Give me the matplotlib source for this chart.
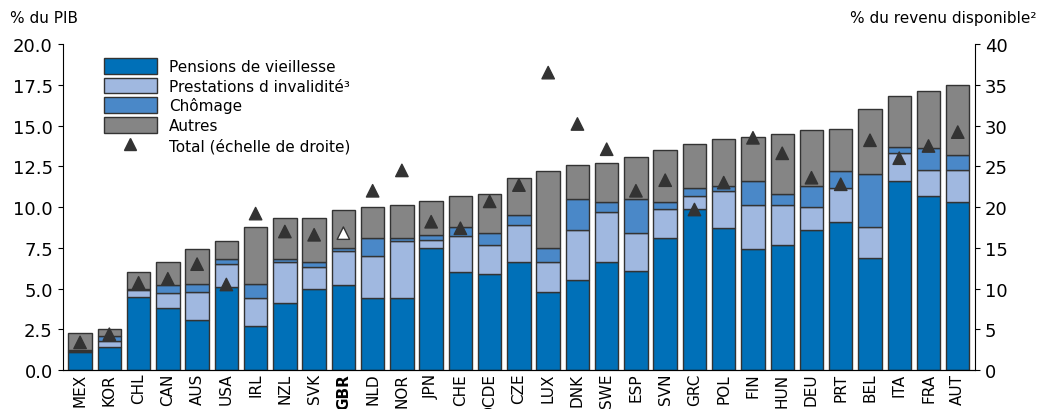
import matplotlib
matplotlib.use("Agg")
import matplotlib.pyplot as plt
import numpy as np
from matplotlib.lines import Line2D
from matplotlib.patches import Patch

countries = ["MEX","KOR","CHL","CAN","AUS","USA","IRL","NZL","SVK","GBR","NLD","NOR","JPN","CHE","OCDE","CZE","LUX","DNK","SWE","ESP","SVN","GRC","POL","FIN","HUN","DEU","PRT","BEL","ITA","FRA","AUT"]
cum_pension = [1.1,1.4,4.5,3.8,3.1,5.1,2.7,4.1,5.0,5.2,4.4,4.4,7.5,6.0,5.9,6.6,4.8,5.5,6.6,6.1,8.1,9.9,8.7,7.4,7.7,8.6,9.1,6.9,11.6,10.7,10.3]
cum_invalid = [1.15,1.8,4.9,4.7,4.8,6.5,4.4,6.6,6.3,7.3,7.0,7.9,8.0,8.2,7.7,8.9,6.6,8.6,9.7,8.4,9.9,10.7,11.0,10.1,10.1,10.0,11.2,8.8,13.3,12.3,12.3]
cum_chomage = [1.2,2.1,5.0,5.2,5.3,6.8,5.3,6.8,6.6,7.5,8.1,8.1,8.3,8.8,8.4,9.5,7.5,10.5,10.3,10.5,10.3,11.2,11.3,11.6,10.8,11.3,12.2,12.0,13.7,13.6,13.2]
cum_total = [2.3,2.5,6.0,6.6,7.4,7.9,8.8,9.3,9.3,9.8,10.0,10.1,10.4,10.7,10.8,11.8,12.2,12.6,12.7,13.1,13.5,13.9,14.2,14.3,14.5,14.7,14.8,16.0,16.8,17.1,17.5]
total_disp = [3.4,4.4,10.7,11.2,13.0,10.5,19.2,17.0,16.6,16.8,22.0,24.5,18.2,17.4,20.7,22.7,36.5,30.2,27.1,22.0,23.3,19.7,23.0,28.5,26.6,23.6,22.8,28.2,26.0,27.5,29.2]

pension = np.array(cum_pension)
invalid = np.array(cum_invalid) - pension
chom = np.array(cum_chomage) - np.array(cum_invalid)
autres = np.array(cum_total) - np.array(cum_chomage)

c1, c2, c3, c4 = "#0070b8", "#a0b8e0", "#4a88c8", "#858585"
ec = "#333333"

fig = plt.figure(figsize=(10.42, 4.10), dpi=100)
ax = fig.add_axes([0.06, 0.095, 0.876, 0.795])
x = np.arange(len(countries))
w = 0.8
kw = dict(width=w, edgecolor=ec, linewidth=1.0)
ax.bar(x, pension, color=c1, **kw)
ax.bar(x, invalid, bottom=pension, color=c2, **kw)
ax.bar(x, chom, bottom=pension+invalid, color=c3, **kw)
ax.bar(x, autres, bottom=pension+invalid+chom, color=c4, **kw)
ax.set_xlim(-0.6, len(countries)-0.4)
ax.set_ylim(0, 20)
ax.set_yticks(np.arange(0, 20.1, 2.5))
ax.set_yticklabels([f"{v:.1f}" for v in np.arange(0, 20.1, 2.5)], fontsize=13)
ax.set_xticks(x)
ax.set_xticklabels(countries, rotation=90, fontsize=11)
for lbl in ax.get_xticklabels():
    if lbl.get_text() == "GBR":
        lbl.set_fontweight("bold")
ax.spines["top"].set_visible(False)
ax.spines["right"].set_visible(False)
ax.tick_params(axis="x", length=0, pad=2)

ax2 = ax.twinx()
ax2.set_ylim(0, 40)
ax2.set_yticks(range(0, 41, 5))
ax2.tick_params(labelsize=13)
ax2.spines["top"].set_visible(False)
ax2.spines["left"].set_visible(False)
fc = ["white" if c == "GBR" else "#333333" for c in countries]
ax2.scatter(x, total_disp, marker="^", s=80, c=fc, edgecolors="#333333", linewidths=1, zorder=5)

fig.text(0.01, 0.945, "% du PIB", fontsize=11)
fig.text(0.995, 0.945, "% du revenu disponible²", fontsize=11, ha="right")

handles = [Patch(facecolor=c1, edgecolor=ec), Patch(facecolor=c2, edgecolor=ec),
           Patch(facecolor=c3, edgecolor=ec), Patch(facecolor=c4, edgecolor=ec),
           Line2D([], [], marker="^", color="#333333", linestyle="none", markersize=9)]
labels = ["Pensions de vieillesse", "Prestations d invalidité³", "Chômage", "Autres", "Total (échelle de droite)"]
ax2.legend(handles, labels, loc="upper left", bbox_to_anchor=(0.03, 1.0), frameon=False,
           fontsize=11, handlelength=3.5, handleheight=1.2, labelspacing=0.25, handletextpad=0.8)
fig.savefig("out.png", dpi=100)
